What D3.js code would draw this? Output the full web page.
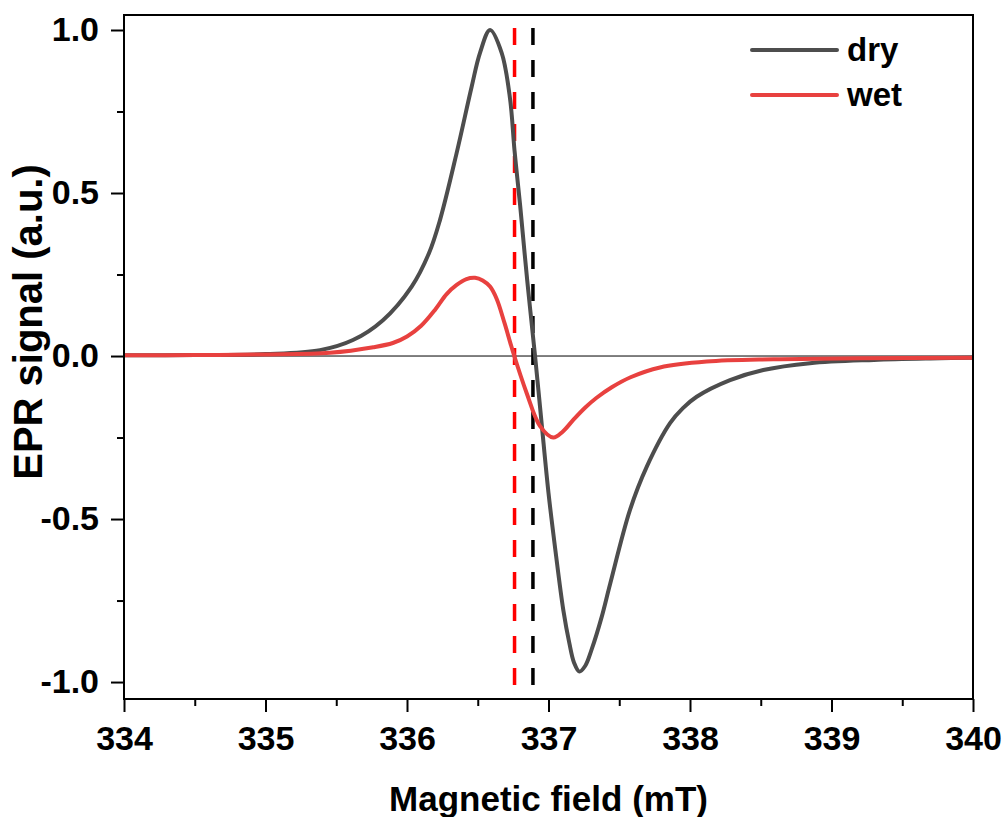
<!doctype html>
<html lang="en">
<head>
<meta charset="utf-8">
<title>EPR signal</title>
<script src="https://d3js.org/d3.v7.min.js"></script>
<style>
  body { margin: 0; background: #fff; }
  svg text { font-family: "Liberation Sans", Arial, sans-serif; font-weight: bold; fill: #000; }
</style>
</head>
<body>
<div id="chart"></div>
<script>
// field values (mT) and signal
var dryField = [334.0, 334.5, 335.0, 335.385, 335.618, 335.83, 336.033, 336.155, 336.233, 336.351, 336.457, 336.516, 336.587,
  336.669, 336.728, 336.76, 336.80, 336.85, 336.905, 336.95, 337.0, 337.05, 337.105, 337.147, 337.18, 337.218,
  337.26, 337.305, 337.376, 337.435, 337.576, 337.694, 337.859, 337.95, 338.047, 338.283, 338.518, 338.848, 339.3, 339.767, 340.0];
var drySignal = [0.002, 0.003, 0.006, 0.018, 0.049, 0.11, 0.213, 0.315, 0.417, 0.623, 0.826, 0.93, 1.0,
  0.93, 0.79, 0.63, 0.46, 0.23, 0.0, -0.20, -0.42, -0.60, -0.78, -0.88, -0.94, -0.968,
  -0.95, -0.90, -0.80, -0.70, -0.472, -0.34, -0.206, -0.16, -0.125, -0.074, -0.043, -0.022, -0.012, -0.007, -0.005];

var wetField = [334.0, 334.5, 335.0, 335.456, 335.762, 335.9, 336.0, 336.1, 336.2, 336.28, 336.351, 336.42, 336.481,
  336.535, 336.587, 336.634, 336.69, 336.751, 336.846, 336.94, 337.034, 337.10, 337.175, 337.26, 337.34, 337.45,
  337.58, 337.788, 338.118, 338.59, 339.2, 340.0];
var wetSignal = [0.002, 0.003, 0.005, 0.01, 0.027, 0.04, 0.06, 0.093, 0.143, 0.19, 0.218, 0.236, 0.24,
  0.232, 0.213, 0.175, 0.10, 0.01, -0.114, -0.215, -0.25, -0.232, -0.196, -0.158, -0.128, -0.095,
  -0.065, -0.035, -0.017, -0.010, -0.007, -0.005];

var markerField = [336.76, 336.89];   // dashed guide lines (wet, dry)
var markerColor = ["#ff0000", "#000000"];

var xTicks = [334, 335, 336, 337, 338, 339, 340];
var yTicks = [-1.0, -0.5, 0.0, 0.5, 1.0];
var seriesNames = ["dry", "wet"];
var seriesColors = ["#4d4d4d", "#e8413f"];

var width = 1005, height = 817;
var margin = {left: 124, right: 32, top: 15, bottom: 118};

var svg = d3.select("#chart").append("svg")
    .attr("width", width)
    .attr("height", height);

var x = d3.scaleLinear().domain([334, 340]).range([margin.left, width - margin.right]);
var y = d3.scaleLinear().domain([-1.052, 1.046]).range([height - margin.bottom, margin.top]);

// minor ticks
var xMinor = d3.range(334.5, 340, 1);
var yMinor = [-0.75, -0.25, 0.25, 0.75];

var g = svg.append("g");

// zero line
g.append("line")
    .attr("x1", x(334)).attr("x2", x(340))
    .attr("y1", y(0)).attr("y2", y(0))
    .attr("stroke", "#000").attr("stroke-width", 1);

// dashed markers
g.selectAll(".marker")
    .data(markerField)
    .enter().append("line")
    .attr("class", "marker")
    .attr("x1", function(d) { return x(d); })
    .attr("x2", function(d) { return x(d); })
    .attr("y1", y(1.006))
    .attr("y2", y(-1.052))
    .attr("stroke", function(d, i) { return markerColor[i]; })
    .attr("stroke-width", 3.5)
    .attr("stroke-dasharray", "17,15");

var line = d3.line()
    .x(function(d) { return x(d[0]); })
    .y(function(d) { return y(d[1]); })
    .curve(d3.curveCatmullRom.alpha(0.5));

var series = [
  d3.zip(dryField, drySignal),
  d3.zip(wetField, wetSignal)
];

g.selectAll(".curve")
    .data(series)
    .enter().append("path")
    .attr("class", "curve")
    .attr("d", line)
    .attr("fill", "none")
    .attr("stroke", function(d, i) { return seriesColors[i]; })
    .attr("stroke-width", 4)
    .attr("stroke-linejoin", "round");

// frame
svg.append("rect")
    .attr("x", x(334)).attr("y", margin.top)
    .attr("width", x(340) - x(334))
    .attr("height", height - margin.bottom - margin.top)
    .attr("fill", "none")
    .attr("stroke", "#000")
    .attr("stroke-width", 2);

var fmtY = function(d) { return d3.format(".1f")(d).replace("\u2212", "-"); };

// axes
var xAxis = d3.axisBottom(x).tickValues(xTicks).tickSize(13).tickPadding(14).tickFormat(d3.format("d"));
var gx = svg.append("g")
    .attr("transform", "translate(0," + (height - margin.bottom) + ")")
    .call(xAxis);
gx.select(".domain").remove();
gx.selectAll("line").attr("stroke-width", 2);
gx.selectAll("text").style("font-size", "34px");

var gxm = svg.append("g")
    .attr("transform", "translate(0," + (height - margin.bottom) + ")")
    .call(d3.axisBottom(x).tickValues(xMinor).tickSize(7).tickFormat(""));
gxm.select(".domain").remove();
gxm.selectAll("line").attr("stroke-width", 2);

var yAxis = d3.axisLeft(y).tickValues(yTicks).tickSize(13).tickPadding(12).tickFormat(fmtY);
var gy = svg.append("g")
    .attr("transform", "translate(" + margin.left + ",0)")
    .call(yAxis);
gy.select(".domain").remove();
gy.selectAll("line").attr("stroke-width", 2);
gy.selectAll("text").style("font-size", "34px");

var gym = svg.append("g")
    .attr("transform", "translate(" + margin.left + ",0)")
    .call(d3.axisLeft(y).tickValues(yMinor).tickSize(7).tickFormat(""));
gym.select(".domain").remove();
gym.selectAll("line").attr("stroke-width", 2);

// axis titles
svg.append("text")
    .attr("x", (x(334) + x(340)) / 2)
    .attr("y", 811)
    .attr("text-anchor", "middle")
    .style("font-size", "35px")
    .text("Magnetic field (mT)");

svg.append("text")
    .attr("transform", "translate(42," + 322 + ") rotate(-90)")
    .attr("text-anchor", "middle")
    .style("font-size", "40px")
    .text("EPR signal (a.u.)");

// legend
var legend = svg.append("g").attr("transform", "translate(752,50)");
var items = legend.selectAll(".item")
    .data(seriesNames)
    .enter().append("g")
    .attr("class", "item")
    .attr("transform", function(d, i) { return "translate(0," + (i * 45) + ")"; });
items.append("line")
    .attr("x1", 0).attr("x2", 85)
    .attr("stroke", function(d, i) { return seriesColors[i]; })
    .attr("stroke-width", 4)
    .attr("stroke-linecap", "round");
items.append("text")
    .attr("x", 95)
    .attr("y", 11)
    .style("font-size", "33px")
    .text(function(d) { return d; });
</script>
</body>
</html>
